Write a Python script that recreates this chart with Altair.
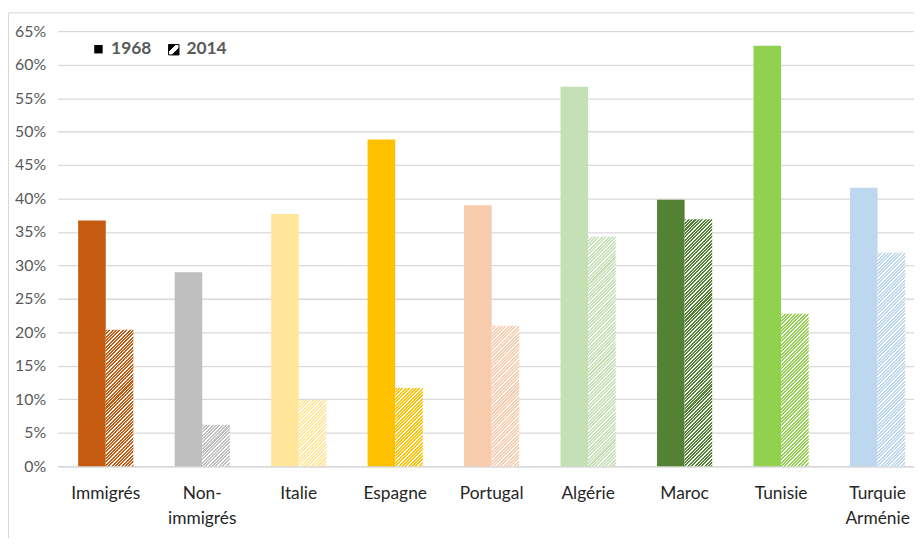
import altair as alt
import pandas as pd

# ---- data ----
categories = ["Immigrés", "Non-immigrés", "Italie", "Espagne", "Portugal",
              "Algérie", "Maroc", "Tunisie", "Turquie Arménie"]
share_1968 = [0.367, 0.290, 0.377, 0.488, 0.390, 0.567, 0.398, 0.628, 0.416]
share_2014 = [0.204, 0.062, 0.099, 0.117, 0.210, 0.343, 0.369, 0.228, 0.319]
colors = ["#C55A11", "#BFBFBF", "#FFE699", "#FFC000", "#F8CBAD",
          "#C5E0B4", "#548235", "#92D050", "#BDD7EE"]
years = ["1968", "2014"]
y_ticks = [0.0, 0.05, 0.10, 0.15, 0.20, 0.25, 0.30, 0.35, 0.40,
           0.45, 0.50, 0.55, 0.60, 0.65]

rows = []
for c, a, b in zip(categories, share_1968, share_2014):
    rows.append({"cat": c, "year": years[0], "value": a})
    rows.append({"cat": c, "year": years[1], "value": b})
df = pd.DataFrame(rows)

# ---- layout ----
PLOT_W = 864
PLOT_H = 439
P_IN = 0.428
P_OUT = 0.1525
ALIGN = 0.7
YMAX = 0.65
FONT = "Lato"
GREY = "#595959"

step = PLOT_W / (len(categories) - P_IN + 2 * P_OUT)
bar_w = step * (1 - P_IN) / 2


def hatch(color, h, w=bar_w, period=3.4, frac=0.6):
    """Diagonal '/' stripes using a linear gradient in bbox units."""
    L = w + h
    p = (w + h) / (w * w + h * h)
    stops = []
    k = 0
    while k * period < L:
        a = min(k * period / L, 1)
        b = min((k + frac) * period / L, 1)
        c = min((k + 1) * period / L, 1)
        stops += [{"offset": round(a, 5), "color": color},
                  {"offset": round(b, 5), "color": color},
                  {"offset": round(b, 5), "color": "#FFFFFF"},
                  {"offset": round(c, 5), "color": "#FFFFFF"}]
        k += 1
    return {"gradient": "linear", "x1": 0, "y1": 0,
            "x2": p * w, "y2": p * h, "stops": stops}


label_expr = ("datum.value == 'Non-immigrés' ? ['Non-', 'immigrés'] : "
              "datum.value == 'Turquie Arménie' ? ['Turquie', 'Arménie'] : datum.label")

x_enc = alt.X("cat:N", sort=categories,
              scale=alt.Scale(domain=categories, paddingInner=P_IN,
                              paddingOuter=P_OUT, align=ALIGN),
              axis=alt.Axis(title=None, labelAngle=0, ticks=False,
                            domain=True, domainColor="#D9D9D9", domainWidth=1.5,
                            labelPadding=18, labelFont=FONT, labelFontSize=17.5,
                            labelColor="#262626", labelLineHeight=26,
                            labelExpr=label_expr, grid=False))
xo_enc = alt.XOffset("year:N", scale=alt.Scale(domain=years, paddingInner=0,
                                               paddingOuter=0))
y_enc = alt.Y("value:Q", scale=alt.Scale(domain=[0, YMAX], nice=False, zero=True),
              axis=alt.Axis(title=None, values=y_ticks, format=".0%",
                            domain=False, ticks=False, labelPadding=12,
                            grid=True, gridColor="#D9D9D9", gridWidth=1.3,
                            labelFont=FONT, labelFontSize=16, labelColor=GREY))

one = pd.DataFrame({"k": [0]})

border = alt.Chart(one).mark_rect(fill="transparent", stroke="#D9D9D9",
                                  strokeWidth=1).encode(
    x=alt.value(-49.5), x2=alt.value(PLOT_W + 40),
    y=alt.value(-18.5), y2=alt.value(PLOT_H + 200))

bars68 = alt.Chart(df).transform_filter(alt.datum.year == years[0]).mark_bar(
    strokeWidth=0).encode(
    x=x_enc, xOffset=xo_enc, y=y_enc,
    color=alt.Color("cat:N", scale=alt.Scale(domain=categories, range=colors),
                    legend=None))

layers = [border, bars68]
for c, v, col in zip(categories, share_2014, colors):
    h = v / YMAX * PLOT_H
    layers.append(
        alt.Chart(df).transform_filter(
            (alt.datum.year == years[1]) & (alt.datum.cat == c)
        ).mark_bar(fill=hatch(col, h), strokeWidth=0).encode(
            x=x_enc, xOffset=xo_enc, y=y_enc))

# ---- legend (top-left, inside plot) ----
leg_bg = alt.Chart(one).mark_rect(fill="#FFFFFF").encode(
    x=alt.value(15), x2=alt.value(189), y=alt.value(6), y2=alt.value(30))
leg_sq = alt.Chart(one).mark_rect(fill="#000000").encode(
    x=alt.value(37), x2=alt.value(45.5), y=alt.value(14), y2=alt.value(22.5))
leg_t1 = alt.Chart(one).mark_text(align="left", baseline="middle", font=FONT,
                                  fontSize=17.5, fontWeight="bold", color=GREY).encode(
    x=alt.value(54), y=alt.value(18.5), text=alt.value(years[0]))
icon_grad = {"gradient": "linear", "x1": 0, "y1": 0, "x2": 1, "y2": 1,
             "stops": [{"offset": 0, "color": "#000000"},
                       {"offset": 0.36, "color": "#000000"},
                       {"offset": 0.36, "color": "#FFFFFF"},
                       {"offset": 0.64, "color": "#FFFFFF"},
                       {"offset": 0.64, "color": "#000000"},
                       {"offset": 1, "color": "#000000"}]}
leg_hq = alt.Chart(one).mark_rect(fill=icon_grad, stroke="#000000",
                                  strokeWidth=1).encode(
    x=alt.value(112), x2=alt.value(122.5), y=alt.value(13.5), y2=alt.value(24))
leg_t2 = alt.Chart(one).mark_text(align="left", baseline="middle", font=FONT,
                                  fontSize=17.5, fontWeight="bold", color=GREY).encode(
    x=alt.value(130), y=alt.value(18.5), text=alt.value(years[1]))

layers += [leg_bg, leg_sq, leg_t1, leg_hq, leg_t2]

chart = alt.layer(*layers).properties(
    width=PLOT_W, height=PLOT_H,
    autosize=alt.AutoSizeParams(type="none"),
    padding={"left": 50, "top": 21, "right": 0, "bottom": 70},
    background="#FFFFFF",
).configure_view(strokeWidth=0)

chart.save("out.html", embed_options={"renderer": "svg", "actions": False})
